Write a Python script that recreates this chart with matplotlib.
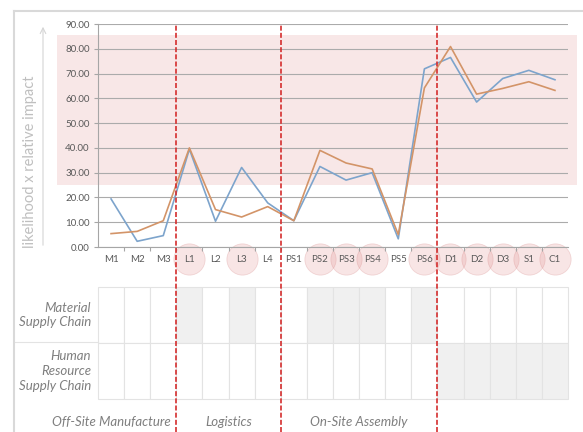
"""
Risk score per process step, with the supply-chain table underneath
"""

import matplotlib
matplotlib.use("Agg")
import matplotlib.pyplot as plt
import matplotlib.transforms as mtransforms
from matplotlib.lines import Line2D
from matplotlib.patches import Rectangle


categories = ["M1", "M2", "M3", "L1", "L2", "L3", "L4", "PS1", "PS2", "PS3",
              "PS4", "PS5", "PS6", "D1", "D2", "D3", "S1", "C1"]
blue_vals = [19.4, 2.3, 4.6, 39.5, 10.4, 32.1, 17.8, 10.6, 32.5, 27.0,
             30.0, 3.3, 71.9, 76.5, 58.5, 68.0, 71.3, 67.5]
orange_vals = [5.4, 6.3, 10.6, 40.0, 15.1, 12.1, 16.3, 10.6, 39.0, 33.9,
               31.5, 5.0, 64.2, 80.9, 61.7, 64.0, 66.7, 63.2]
highlighted = ["L1", "L3", "PS2", "PS3", "PS4", "PS6", "D1", "D2", "D3", "S1", "C1"]
material_cells = ["L1", "L3", "PS2", "PS3", "PS4", "PS6"]
human_cells = ["D1", "D2", "D3", "S1", "C1"]
section_breaks = [2.5, 6.5, 12.5]
section_names = ["Off-Site Manufacture", "Logistics", "On-Site Assembly"]
section_label_x = [0.0, 4.5, 9.5]
row_names = ["Material\nSupply Chain", "Human\nResource\nSupply Chain"]
risk_band = (25.0, 85.5)
yticks = [0, 10, 20, 30, 40, 50, 60, 70, 80, 90]

plt.rcParams['font.family'] = ['Lato', 'DejaVu Sans']

W, H = 583., 432.
def fx(x):
    return x / W
def fy(y):
    return 1 - y / H

fig = plt.figure(figsize=(W / 100, H / 100), dpi=100)

# main chart
ax = fig.add_axes([fx(98), fy(247), 470 / W, 223 / H])
ax.patch.set_alpha(0)
n = len(categories)
xs = list(range(n))
ax.set_xlim(-0.5, n - 0.5)
ax.set_ylim(0, 90)

# pink "high risk" band, wider than the axes
band_tr = mtransforms.blended_transform_factory(fig.transFigure, ax.transData)
ax.add_patch(Rectangle((fx(57), risk_band[0]), 520 / W, risk_band[1] - risk_band[0],
                       transform=band_tr, facecolor="#F8E7E7", edgecolor="none",
                       zorder=0.5, clip_on=False))

ax.plot(xs, blue_vals, color="#7DA4CC", lw=1.2, zorder=3)
ax.plot(xs, orange_vals, color="#D39468", lw=1.2, zorder=3)

ax.set_yticks(yticks)
ax.set_yticklabels(["%.2f" % v for v in yticks])
ax.yaxis.grid(True, color="#ABABAB", lw=0.8)
ax.set_xticks(xs)
ax.set_xticklabels(categories)
ax.set_xticks([i + 0.5 for i in range(n - 1)], minor=True)
ax.tick_params(axis="x", which="major", length=0, pad=5.5, labelsize=7, labelcolor="#595959")
ax.tick_params(axis="x", which="minor", length=3, color="#A6A6A6", width=0.8)
ax.tick_params(axis="y", length=3, color="#A6A6A6", width=0.8, labelsize=7,
               labelcolor="#595959", pad=3)
for s in ["top", "right"]:
    ax.spines[s].set_visible(False)
for s in ["left", "bottom"]:
    ax.spines[s].set_color("#A6A6A6")
    ax.spines[s].set_linewidth(0.8)

# circles behind the highlighted labels
lab_tr = mtransforms.blended_transform_factory(ax.transData, ax.transAxes)
hx = [categories.index(c) for c in highlighted]
ax.plot(hx, [-0.053] * len(hx), "o", ms=22.5, mfc=(0.88, 0.55, 0.55, 0.22),
        mec=(0.85, 0.55, 0.55, 0.3), mew=0.6, transform=lab_tr,
        clip_on=False, zorder=1)

# table below
ax2 = fig.add_axes([fx(98), fy(399), 470 / W, 112 / H])
ax2.set_xlim(-0.5, n - 0.5)
ax2.set_ylim(0, 2)
ax2.axis("off")
for i, c in enumerate(categories):
    for y0, shaded in [(1, c in material_cells), (0, c in human_cells)]:
        ax2.add_patch(Rectangle((i - 0.5, y0), 1, 1,
                                facecolor="#F0F0F0" if shaded else "white",
                                edgecolor="#E3E3E3", lw=0.8, clip_on=False))

txt_kw = dict(style="italic", color="#7F7F7F", fontsize=9.5, linespacing=1.3)
fig.text(fx(91), fy(315), row_names[0], ha="right", va="center", **txt_kw)
fig.text(fx(91), fy(371), row_names[1], ha="right", va="center", **txt_kw)
fig.add_artist(Line2D([fx(15), fx(98)], [fy(342), fy(342)], color="#E3E3E3", lw=0.8))

sec_tr = mtransforms.blended_transform_factory(ax.transData, fig.transFigure)
for name, x in zip(section_names, section_label_x):
    fig.text(x, fy(422), name, transform=sec_tr, ha="center", va="center", **txt_kw)

# dashed section separators through both parts
for b in section_breaks:
    fig.add_artist(Line2D([b, b], [0, fy(24)], transform=sec_tr, color="#D42E2E",
                          lw=1.2, linestyle=(0, (3, 1.3)), zorder=5))

# y label with arrow
fig.text(fx(30), fy(162), "likelihood x relative impact", rotation=90,
         ha="center", va="center", color="#BFBFBF", fontsize=10.5)
ax.annotate("", xy=(fx(43), fy(24)), xytext=(fx(43), fy(248)),
            xycoords="figure fraction", textcoords="figure fraction",
            arrowprops=dict(arrowstyle="->", color="#D5D5D5", lw=0.8))

# outer frame
fig.add_artist(Line2D([fx(14), 1], [fy(11), fy(11)], color="#D9D9D9", lw=1.5))
fig.add_artist(Line2D([fx(14), fx(14)], [0, fy(11)], color="#D9D9D9", lw=1.5))

fig.savefig("out.png", dpi=100)
